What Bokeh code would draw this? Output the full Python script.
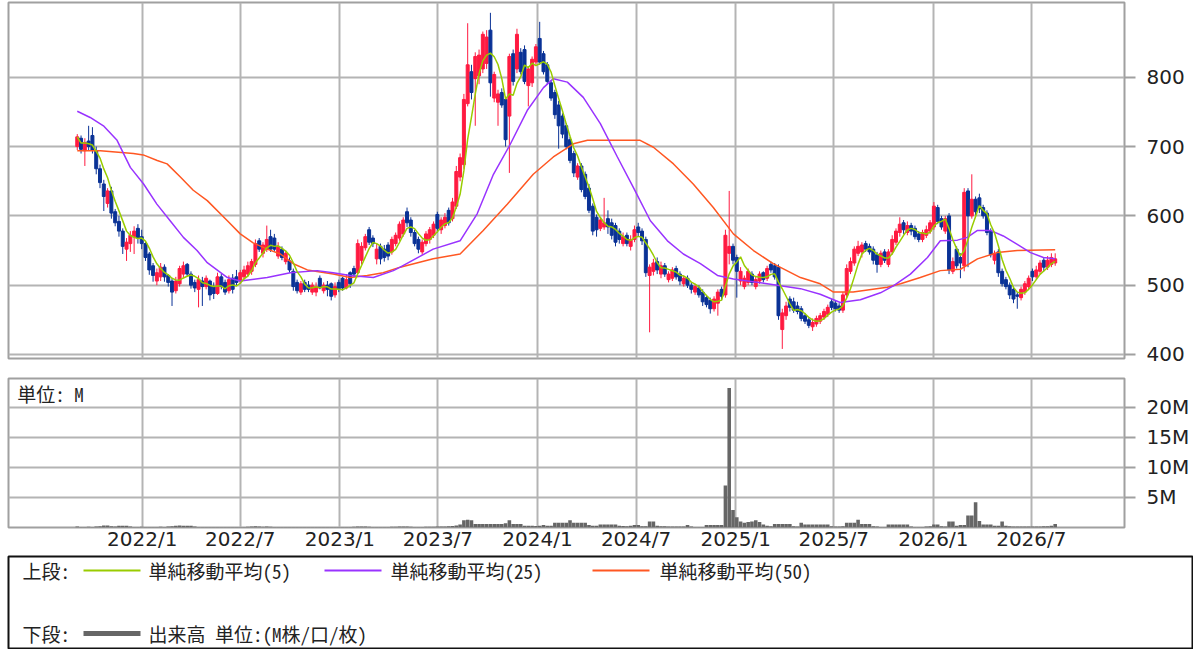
import numpy as np
import pandas as pd
from bokeh.plotting import figure
from bokeh.layouts import column
from bokeh.models import (Range1d, FixedTicker, CustomJSTickFormatter, Label,
                          ColumnDataSource)
from bokeh.embed import file_html
from bokeh.resources import INLINE
from bokeh.core.properties import value

# ---------------- data (weekly candles) ----------------
first_week = "2021-09-03"

opens = [700,712,694,708,716,694,668,646,618,636,
 606,592,578,552,560,570,582,570,560,545,
 528,506,512,526,514,506,492,502,516,530,
 516,504,494,506,498,506,498,488,512,504,
 492,510,512,506,512,516,520,530,564,546,
 552,570,568,542,552,534,535,520,504,490,
 504,500,490,490,510,492,500,502,486,504,
 510,496,518,524,518,536,554,580,568,538,
 556,552,558,548,560,568,574,606,594,576,
 566,548,560,566,572,602,580,586,608,596,
 614,656,674,762,808,798,802,812,820,868,
 770,764,778,768,744,834,812,836,840,788,
 792,822,856,834,818,792,778,760,744,730,
 710,690,656,672,660,640,614,598,582,584,
 596,590,586,578,560,572,556,566,584,578,
 566,514,520,534,516,528,508,510,524,516,
 502,510,500,490,496,490,482,478,466,474,
 494,486,546,556,540,506,498,504,516,498,
 506,518,510,530,528,526,436,456,480,476,
 470,466,456,450,440,444,448,454,458,476,
 474,470,464,486,520,532,546,548,560,556,
 552,544,530,548,530,548,562,576,590,576,
 586,582,574,566,572,578,584,612,596,578,
 600,520,552,540,528,636,600,624,626,612,
 604,578,536,548,520,508,500,494,486,482,
 490,498,520,512,520,536,526,530,532]

highs = [718,716,712,730,728,700,674,652,640,642,
 610,600,582,568,578,585,588,580,562,548,
 532,524,532,530,516,510,512,528,534,532,
 520,508,514,512,514,508,504,518,516,508,
 514,516,522,522,528,534,538,566,568,562,
 586,580,574,562,556,550,540,524,508,506,
 508,506,504,504,514,504,506,504,504,508,
 512,516,520,528,566,562,574,584,572,560,
 560,558,562,570,576,592,598,612,598,580,
 570,566,578,584,592,606,598,604,612,626,
 672,690,776,878,818,836,840,866,868,893,
 808,782,784,772,834,840,870,842,846,816,
 830,848,880,838,822,796,782,766,748,734,
 714,694,676,676,664,646,618,602,598,626,
 608,596,590,582,576,576,572,586,590,582,
 570,530,538,540,534,532,520,526,528,520,
 514,514,504,502,500,494,486,482,484,494,
 498,580,636,560,544,526,514,524,520,512,
 520,520,528,534,532,530,466,476,484,482,
 476,470,460,454,452,456,460,466,472,480,
 478,474,490,530,540,556,564,562,564,560,
 556,548,550,552,552,572,582,598,594,592,
 590,586,578,580,586,594,620,616,600,600,
 604,540,556,546,640,640,660,628,632,616,
 608,582,550,552,524,512,504,498,490,498,
 506,514,524,528,536,540,542,546,546]

lows = [695,690,672,695,690,660,640,607,612,596,
 585,570,545,535,548,545,560,552,535,515,
 505,500,506,505,498,470,488,498,510,512,
 495,490,468,470,494,478,480,486,494,486,
 488,488,500,502,508,512,515,526,548,540,
 548,548,548,538,536,530,518,492,488,486,
 490,490,486,484,494,488,484,478,482,490,
 492,494,496,512,516,530,550,558,555,530,
 530,534,536,544,556,564,570,584,570,556,
 546,544,556,560,568,576,574,582,586,592,
 610,650,668,758,768,730,790,806,812,772,
 764,730,756,700,662,788,806,804,790,758,
 786,818,818,804,790,766,740,697,712,696,
 676,656,652,634,624,604,572,570,578,580,
 574,566,556,560,556,556,550,562,570,558,
 512,432,514,516,510,512,504,506,508,500,
 498,496,488,486,482,470,468,459,462,456,
 478,482,530,530,482,500,494,500,500,494,
 502,504,506,518,508,450,408,450,462,460,
 458,448,444,438,434,440,444,450,454,464,
 462,460,460,482,516,528,542,540,548,544,
 530,518,526,532,526,544,558,570,574,572,
 572,566,562,562,568,574,580,588,580,574,
 516,516,524,510,520,526,596,600,604,596,
 572,540,530,512,498,494,480,474,466,478,
 486,494,506,508,516,520,522,526,528]

closes = [714,696,706,700,695,668,648,628,636,604,
 590,578,556,562,572,578,568,560,540,522,
 514,518,526,512,504,490,506,524,528,516,
 500,496,508,498,510,486,488,512,498,490,
 508,494,504,518,522,528,534,560,552,558,
 566,552,552,556,540,546,522,498,492,502,
 494,494,500,498,496,500,494,484,498,495,
 496,508,502,516,560,556,570,562,560,552,
 538,540,542,566,572,588,594,590,576,560,
 552,562,574,580,588,582,594,598,590,620,
 664,684,768,818,778,830,832,862,858,792,
 804,776,760,710,830,794,862,808,794,812,
 826,844,822,808,794,770,746,730,718,700,
 680,662,672,638,628,608,578,580,594,590,
 584,572,562,566,570,560,566,580,576,564,
 518,526,532,522,528,516,516,522,512,506,
 510,500,494,498,486,476,472,466,480,490,
 484,572,556,536,520,520,510,520,504,508,
 516,508,524,522,512,456,460,470,468,464,
 462,452,448,442,446,452,456,462,468,468,
 466,464,486,524,534,552,556,558,552,548,
 536,530,546,536,548,566,578,588,580,586,
 578,570,566,576,580,590,614,592,584,596,
 522,534,528,532,634,600,624,606,610,600,
 576,544,546,518,502,498,486,480,484,494,
 502,510,512,522,532,526,536,540,538]

volumes_m = [0.15,0.1,0.1,0.12,0.1,0.15,0.2,0.35,0.35,0.2,
 0.15,0.3,0.3,0.3,0.15,0.1,0.1,0.12,0.1,0.1,
 0.1,0.1,0.12,0.1,0.15,0.2,0.3,0.35,0.3,0.3,
 0.3,0.15,0.1,0.1,0.1,0.1,0.08,0.08,0.1,0.1,
 0.08,0.08,0.1,0.1,0.1,0.12,0.15,0.2,0.15,0.12,
 0.15,0.12,0.1,0.1,0.08,0.08,0.1,0.1,0.08,0.08,
 0.08,0.08,0.08,0.08,0.08,0.08,0.08,0.08,0.08,0.1,
 0.1,0.1,0.1,0.12,0.15,0.15,0.15,0.12,0.1,0.1,
 0.1,0.1,0.1,0.12,0.12,0.15,0.15,0.15,0.12,0.1,
 0.1,0.1,0.12,0.12,0.12,0.15,0.15,0.15,0.2,0.25,
 0.35,0.5,1.2,1.3,1.2,0.6,0.6,0.6,0.6,0.6,
 0.6,0.6,0.6,0.7,1.2,0.6,0.6,0.6,0.3,0.3,
 0.3,0.25,0.3,0.4,0.3,0.3,0.8,0.8,0.8,0.8,
 1.2,0.8,0.8,0.8,0.8,0.4,0.3,0.3,0.5,0.5,
 0.5,0.5,0.5,0.3,0.25,0.2,0.3,0.4,0.4,0.2,
 0.2,1.0,1.0,0.3,0.2,0.2,0.15,0.15,0.15,0.15,
 0.15,0.4,0.15,0.1,0.1,0.1,0.4,0.4,0.4,0.4,
 0.4,7.0,23.2,2.9,1.7,1.0,0.8,0.9,1.0,1.2,
 0.9,0.5,0.3,0.2,0.6,0.6,0.6,0.6,0.6,0.2,
 0.15,0.8,0.5,0.5,0.5,0.5,0.5,0.5,0.5,0.2,
 0.15,0.15,0.2,0.8,0.8,0.8,1.3,0.6,0.6,0.6,
 0.2,0.15,0.1,0.1,0.5,0.5,0.5,0.5,0.5,0.5,
 0.15,0.1,0.1,0.1,0.15,0.2,0.5,0.5,0.2,0.15,
 1.0,1.0,0.3,0.4,0.4,2.0,2.0,4.2,1.1,0.5,
 0.5,0.5,0.3,0.3,1.0,0.3,0.2,0.15,0.15,0.15,
 0.15,0.15,0.15,0.15,0.15,0.2,0.2,0.3,0.6]

# moving averages (week number since first_week, value)
ma25_weeks = [0,3.4,6.9,10.5,14,17.5,21,24.5,28,31.6,34.2,39.6,43,50.1,56.2,63.3,67.5,72,
              78.1,83.4,85.2,93.9,101,105.5,109.8,114.2,118.7,123,125.6,129.3,133.5,138,
              142.5,146.7,151.2,155.7,159.9,164.4,168.9,173.1,182,190.8,196,201.3,206.6,
              211.9,215.3,219.8,224.3,227.7,232.2,234.8,237.5,240.9,244.3,248,251.5,254.9,258]
ma25_vals = [751,742,730,709,670,646,617,593,569,550,533,511,506,511,518,521,518,514,
             511,521,526,552,564,603,660,703,752,785,798,793,771,733,
             685,641,593,564,545,531,514,509,502,495,487,475,479,
             489,499,516,540,564,565,569,579,579,571,559,547,540,538]
ma50_weeks = [0,6.1,14.8,17.4,21.1,23.7,27.2,30.6,34.3,39.6,43,46.4,50.1,53.6,57,60.7,67.5,
              72,76.5,80.7,85.2,93.9,101,107.1,113.5,120.3,125.6,130.9,134.6,148.5,152,
              157.3,162.5,167.8,173.1,178.4,183.6,190.8,196,199.5,204.7,213.7,217.2,222.4,
              227.7,233,237.5,242.7,248,258]
ma50_vals = [694,694,690,688,680,675,656,637,622,593,574,561,552,545,531,522,516,
             511,514,518,526,538,545,579,617,660,685,704,709,709,699,
             675,646,612,574,550,531,511,502,490,490,497,502,511,
             521,523,538,547,550,551]

tick_dates = ["2022-01-01","2022-07-01","2023-01-01","2023-07-01","2024-01-01",
              "2024-07-01","2025-01-01","2025-07-01","2026-01-01","2026-07-01"]
tick_labels = ["2022/1","2022/7","2023/1","2023/7","2024/1",
               "2024/7","2025/1","2025/7","2026/1","2026/7"]
price_ticks = [400, 500, 600, 700, 800]
volume_ticks = [5, 10, 15, 20]

legend_labels = ["単純移動平均(5)", "単純移動平均(25)", "単純移動平均(50)"]
legend_volume = "出来高 単位:(M株/口/枚)"

# ---------------- styles ----------------
UP = "#ff1a40"
DOWN = "#0a3296"
MA5_C = "#99cc00"
MA25_C = "#9933ff"
MA50_C = "#ff5722"
GRID_C = "#b4b4b4"
VOL_C = "#666666"
TICK_FONT = "DejaVu Sans"
JP_FONT = "'Noto Sans Mono CJK JP', 'Noto Sans CJK JP'"

week = pd.Timedelta(days=7)
start = pd.Timestamp(first_week)
n = len(closes)
dates = [start + i * week for i in range(n)]
close_s = pd.Series(closes, dtype=float)
ma5 = close_s.rolling(5, min_periods=1).mean()

src = ColumnDataSource(dict(
    date=dates,
    open=opens, high=highs, low=lows, close=closes,
    top=[max(o, c) for o, c in zip(opens, closes)],
    bottom=[min(o, c) for o, c in zip(opens, closes)],
    color=[UP if c >= o else DOWN for o, c in zip(opens, closes)],
    vol=volumes_m,
    ma5=ma5.values,
))

x_start = pd.Timestamp("2021-04-29")
x_end = pd.Timestamp("2026-12-20")
tick_ms = [pd.Timestamp(d).value / 1e6 for d in tick_dates]

date_fmt = CustomJSTickFormatter(args=dict(tvals=tick_ms, tnames=tick_labels), code="""
    for (let i = 0; i < tvals.length; i++) { if (Math.abs(tvals[i] - tick) < 1) return tnames[i]; }
    return '';
""")

def style_frame(fig):
    fig.outline_line_color = "#a0a0a0"
    fig.outline_line_width = 2
    fig.background_fill_color = "white"
    fig.border_fill_color = "white"
    fig.xgrid.ticker = FixedTicker(ticks=tick_ms)
    fig.xgrid.grid_line_color = GRID_C
    fig.xgrid.grid_line_width = 2
    fig.ygrid.grid_line_color = GRID_C
    fig.ygrid.grid_line_width = 2

def style_yaxis(ax):
    ax.axis_line_color = None
    ax.major_tick_out = 11
    ax.major_tick_in = 0
    ax.major_tick_line_color = "#a0a0a0"
    ax.major_tick_line_width = 2
    ax.minor_tick_line_color = None
    ax.major_label_standoff = 11
    ax.major_label_text_font = TICK_FONT
    ax.major_label_text_font_size = "20px"
    ax.major_label_text_color = "#222222"

# ---------------- price panel ----------------
p = figure(frame_width=1116, frame_height=356,
           x_axis_type="datetime", x_axis_location=None, y_axis_location="right",
           x_range=Range1d(x_start, x_end), y_range=Range1d(394.2, 907.9),
           min_border_left=8, min_border_top=2, min_border_bottom=10, min_border_right=70,
           output_backend="svg", toolbar_location=None)
style_frame(p)
p.yaxis.ticker = FixedTicker(ticks=price_ticks)
p.ygrid.ticker = FixedTicker(ticks=price_ticks)
style_yaxis(p.yaxis[0])

bar_w = 5.5 * 24 * 3600 * 1000
p.segment(x0="date", y0="low", x1="date", y1="high", color="color", line_width=1, source=src)
p.vbar(x="date", width=bar_w, top="top", bottom="bottom", fill_color="color",
       line_color="color", line_width=1, source=src)

ma25_dates = [start + pd.Timedelta(days=7 * w) for w in ma25_weeks]
ma50_dates = [start + pd.Timedelta(days=7 * w) for w in ma50_weeks]
p.line(ma50_dates, ma50_vals, line_color=MA50_C, line_width=1.5)
p.line(ma25_dates, ma25_vals, line_color=MA25_C, line_width=1.5)
p.line(x="date", y="ma5", line_color=MA5_C, line_width=1.5, source=src)

# ---------------- volume panel ----------------
v = figure(frame_width=1116, frame_height=149,
           x_axis_type="datetime", y_axis_location="right",
           x_range=p.x_range, y_range=Range1d(0, 24.8),
           min_border_left=8, min_border_top=10, min_border_bottom=28, min_border_right=70,
           output_backend="svg", toolbar_location=None)
style_frame(v)
v.yaxis.ticker = FixedTicker(ticks=volume_ticks)
v.ygrid.ticker = FixedTicker(ticks=volume_ticks)
style_yaxis(v.yaxis[0])
v.yaxis[0].formatter = CustomJSTickFormatter(code="return tick + 'M';")

vx = v.xaxis[0]
vx.ticker = FixedTicker(ticks=tick_ms)
vx.formatter = date_fmt
vx.axis_line_color = None
vx.major_tick_line_color = None
vx.minor_tick_line_color = None
vx.major_tick_out = 0
vx.major_tick_in = 0
vx.major_label_standoff = -1
vx.major_label_text_font = TICK_FONT
vx.major_label_text_font_size = "20px"
vx.major_label_text_color = "#222222"

v.vbar(x="date", width=6.6 * 24 * 3600 * 1000, top="vol", bottom=0,
       fill_color=VOL_C, line_color=None, source=src)
v.add_layout(Label(x=pd.Timestamp("2021-05-15").value / 1e6, y=22.3, text="単位: M",
                   text_font=JP_FONT, text_font_size="19px", text_color="#222222",
                   text_baseline="middle"))

# ---------------- legend box ----------------
lg = figure(frame_width=1184, frame_height=92, x_range=Range1d(0, 1184), y_range=Range1d(92, 0),
            min_border_left=8, min_border_top=1, min_border_bottom=1, min_border_right=1,
            x_axis_location=None, y_axis_location=None,
            output_backend="svg", toolbar_location=None)
lg.xgrid.visible = False
lg.ygrid.visible = False
lg.outline_line_color = "#111111"
lg.outline_line_width = 2
row1, row2 = 14, 77
lg.text(x=[14, 14], y=[row1, row2], text=["上段:", "下段:"], text_font=value(JP_FONT),
        text_font_size="19px", text_color="#222222", text_baseline="middle")
line_x0 = [75, 316, 584]
text_x = [140, 382, 651]
for x0, tx, lab, col in zip(line_x0, text_x, legend_labels, [MA5_C, MA25_C, MA50_C]):
    lg.segment(x0=[x0], y0=[row1], x1=[x0 + 57], y1=[row1], line_color=col, line_width=2)
    lg.text(x=[tx], y=[row1], text=[lab], text_font=value(JP_FONT), text_font_size="19px",
            text_color="#222222", text_baseline="middle")
lg.segment(x0=[75], y0=[row2], x1=[132], y1=[row2], line_color=VOL_C, line_width=5)
lg.text(x=[140], y=[row2], text=[legend_volume], text_font=value(JP_FONT), text_font_size="19px",
        text_color="#222222", text_baseline="middle")

layout = column(p, v, lg, spacing=0)
open("out.html", "w").write(file_html(layout, INLINE, title="chart"))
